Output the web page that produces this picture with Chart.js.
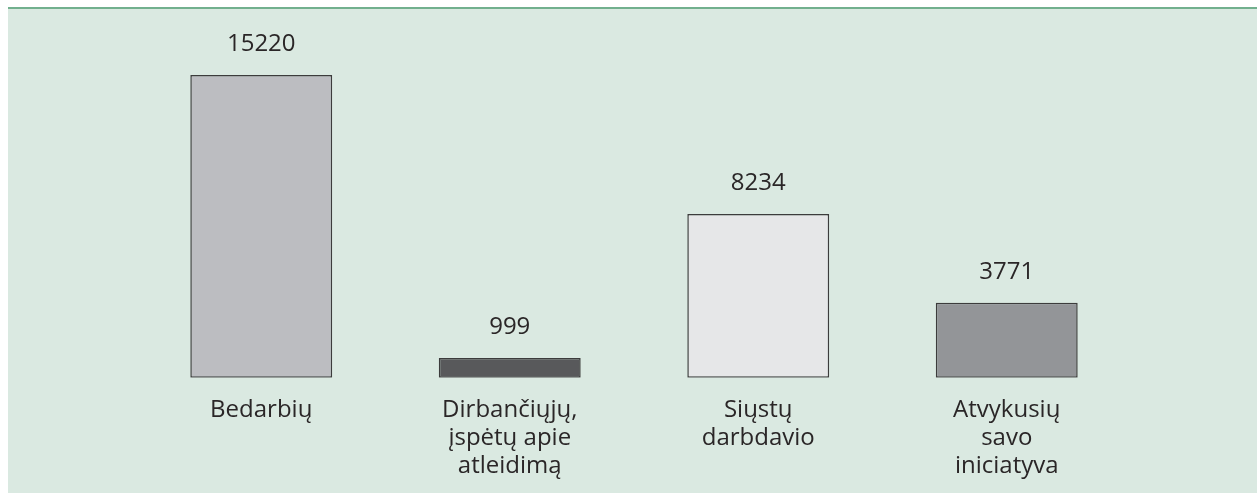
<!DOCTYPE html>
<html lang="lt">
<head>
    <meta charset="UTF-8">
    <title>Bedarbiai</title>
    <script src="https://cdn.jsdelivr.net/npm/chart.js"></script>
    <style>
        body { margin: 0; background: #fff; }
        #panel {
            position: absolute; left: 8px; top: 7px;
            width: 1249px; height: 484px;
            background: #dae9e1; border-top: 2px solid #72b08e;
        }
    </style>
</head>
<body>
    <div id="panel"><canvas id="chart" width="1249" height="484"></canvas></div>
    <script>
        const categories = [
            ['Bedarbių'],
            ['Dirbančiųjų,', 'įspėtų apie', 'atleidimą'],
            ['Siųstų', 'darbdavio'],
            ['Atvykusių', 'savo', 'iniciatyva']
        ];
        const values = [15220, 999, 8234, 3771];
        const barColors = ['#bcbdc1', '#58595b', '#e6e7e8', '#939598'];

        const textColor = '#2a2627';
        const fontFamily = '"Open Sans", sans-serif';

        // numbers above the bars
        const valueLabels = {
            id: 'valueLabels',
            afterDatasetsDraw(chart) {
                const ctx = chart.ctx;
                const meta = chart.getDatasetMeta(0);
                ctx.save();
                ctx.font = '24px ' + fontFamily;
                ctx.fillStyle = textColor;
                ctx.textAlign = 'center';
                ctx.textBaseline = 'alphabetic';
                meta.data.forEach((bar, i) => {
                    ctx.fillText(String(values[i]), bar.x, bar.y - 24);
                });
                ctx.restore();
            }
        };

        const ctx = document.getElementById('chart').getContext('2d');
        new Chart(ctx, {
            type: 'bar',
            data: {
                labels: categories,
                datasets: [{
                    data: values,
                    backgroundColor: barColors,
                    borderColor: '#3c3c3c',
                    borderWidth: 1.5,
                    borderSkipped: false,
                    barPercentage: 0.571,
                    categoryPercentage: 1
                }]
            },
            options: {
                responsive: false,
                animation: false,
                layout: { padding: { left: 129, right: 126, top: 66, bottom: -5 } },
                plugins: {
                    legend: { display: false },
                    tooltip: { enabled: false }
                },
                scales: {
                    x: {
                        grid: { display: false, drawTicks: false },
                        border: { display: false },
                        ticks: {
                            color: textColor,
                            padding: 18,
                            maxRotation: 0,
                            autoSkip: false,
                            font: { family: fontFamily, size: 24, lineHeight: 1.17 }
                        }
                    },
                    y: {
                        display: false,
                        min: 0,
                        max: 15220
                    }
                }
            },
            plugins: [valueLabels]
        });
    </script>
</body>
</html>
